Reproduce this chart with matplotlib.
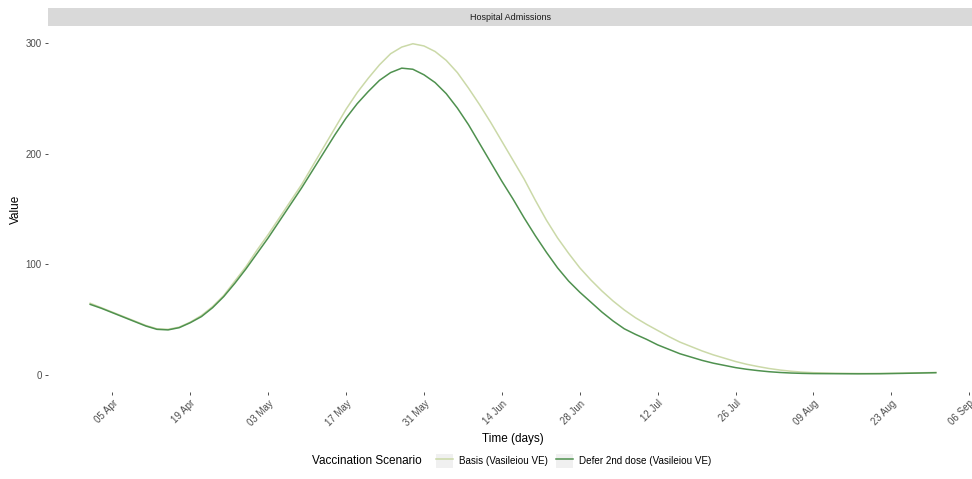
import datetime as dt
import matplotlib
matplotlib.use('Agg')
import matplotlib.pyplot as plt
import matplotlib.dates as mdates
from matplotlib.patches import Rectangle, Patch
from matplotlib.lines import Line2D
from matplotlib.legend_handler import HandlerTuple

plt.rcParams['font.family'] = ['Liberation Sans', 'DejaVu Sans']

# days since 01 Apr 2021
days = list(range(0, 131, 2)) + [134, 138, 142, 146, 150, 152]

basis_vals = [65, 61, 57, 53, 49, 45, 42, 41.5, 43.5, 48, 54, 62, 72, 85, 98,
              113, 127, 142, 157, 172, 189, 206, 223, 240, 255, 268, 280, 290, 296, 299,
              297, 292, 284, 273, 259, 244, 228, 211, 194, 177, 158, 140, 124, 110, 97,
              86, 76, 67, 59, 52, 46, 40.5, 35, 30, 26, 22, 18.5, 15.5, 12.5, 10,
              8, 6.2, 4.8, 3.7, 2.9, 2.4,
              1.9, 1.7, 1.7, 2.0, 2.4, 2.6]

defer_vals = [64, 60.5, 56.5, 52.5, 48.5, 44.5, 41.5, 41, 43, 47.5, 53, 61, 71, 83, 96,
              110, 124, 139, 154, 169, 185, 201, 217, 232, 245, 256, 266, 273, 277, 276,
              271, 264, 254, 241, 226, 209, 192, 175, 159, 142, 126, 111, 97, 85, 75,
              66, 57, 49, 42, 37, 32.5, 27.5, 23.5, 19.5, 16.5, 13.5, 11, 9, 7, 5.5,
              4.3, 3.3, 2.6, 2.1, 1.8, 1.6,
              1.5, 1.4, 1.5, 1.8, 2.2, 2.4]

scenarios = ['Basis (Vasileiou VE)', 'Defer 2nd dose (Vasileiou VE)']
colors = ['#cbd9a8', '#4f914f']

start = dt.date(2021, 4, 1)
dates = [start + dt.timedelta(days=d) for d in days]
tick_dates = [dt.date(2021, 4, 5) + dt.timedelta(days=14 * k) for k in range(12)]

fig = plt.figure(figsize=(9.72, 4.79), dpi=100)
ax = fig.add_axes([48 / 972, 87 / 479, 930 / 972, 366 / 479])

ax.plot(dates, basis_vals, color=colors[0], lw=1.1)
ax.plot(dates, defer_vals, color=colors[1], lw=1.1)

ax.set_xlim(dt.datetime(2021, 3, 24, 10), dt.datetime(2021, 9, 7, 14))
ax.set_ylim(-15, 315)
ax.set_yticks([0, 100, 200, 300])
ax.set_xticks(tick_dates)
ax.xaxis.set_major_formatter(mdates.DateFormatter('%d %b'))

for s in ax.spines.values():
    s.set_visible(False)
ax.tick_params(axis='both', colors='#333333', labelcolor='#4d4d4d', labelsize=7,
               length=2.5, width=0.6, pad=2)
plt.setp(ax.get_xticklabels(), rotation=45, ha='right', va='top', rotation_mode='anchor')

ax.set_xlabel('Time (days)', fontsize=8.5, labelpad=4)
ax.set_ylabel('Value', fontsize=8.5, labelpad=3)

# facet strip
fig.add_artist(Rectangle((48 / 972, 453 / 479), 924 / 972, 18 / 479,
                         transform=fig.transFigure, facecolor='#d9d9d9', edgecolor='none'))
fig.text(510 / 972, 462 / 479, 'Hospital Admissions', ha='center', va='center',
         fontsize=6.5, color='#1a1a1a')

# legend
fig.text(312 / 972, 18 / 479, 'Vaccination Scenario', ha='left', va='center', fontsize=8.5)
handles = [(Patch(facecolor='#f0f0f0', edgecolor='none'), Line2D([], [], color=c, lw=1.1))
           for c in colors]
fig.legend(handles, scenarios, handler_map={tuple: HandlerTuple(ndivide=1)},
           loc='center left', bbox_to_anchor=(436 / 972, 18 / 479), ncol=2, frameon=False,
           fontsize=7.1, handlelength=1.75, handleheight=1.75, columnspacing=0.8,
           handletextpad=0.6, borderaxespad=0, borderpad=0)

fig.savefig('out.png', dpi=100)
